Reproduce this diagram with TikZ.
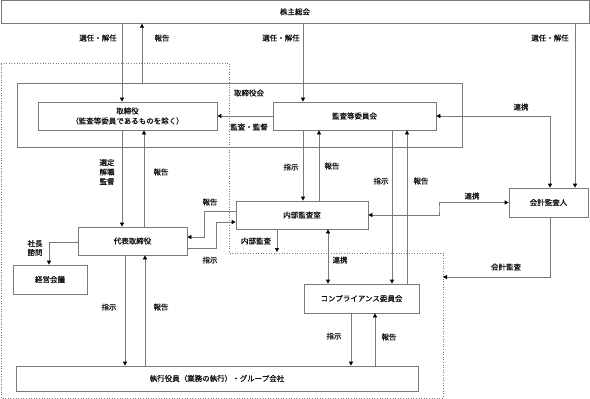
\documentclass[tikz,border=0pt]{standalone}
\usepackage{fontspec}
\newfontfamily\jp[FakeBold=0.6,BoldFont={Noto Sans CJK JP}]{Noto Sans CJK JP}
\usetikzlibrary{arrows.meta}
\definecolor{ln}{HTML}{7A7A7A}
\definecolor{tx}{HTML}{111111}
\tikzset{
  box/.style={draw=ln, line width=0.7pt, inner sep=0pt, align=center, text=tx, font=\jp\fontsize{7.5}{10}\selectfont},
  lbl/.style={inner sep=0pt, align=center, text=tx, font=\jp\fontsize{7.5}{10}\selectfont},
  con/.style={draw=ln, line width=0.7pt},
  arr/.style={con, -{Triangle[length=4pt,width=4pt,color=black]}},
  arrb/.style={con, {Triangle[length=4pt,width=4pt,color=black]}-{Triangle[length=4pt,width=4pt,color=black]}},
  bound/.style={draw=ln, line width=0.6pt, dotted}
}
\begin{document}
\begin{tikzpicture}[x=1pt,y=-1pt]
\useasboundingbox (0,0) rectangle (590,399);
% dotted boundary
\draw[bound] (1,63) -- (229,63) -- (229,253) -- (443,253) -- (443,398) -- (1,398) -- cycle;

% boxes
\node[box, minimum width=588, minimum height=23] (kab) at (295,11.8) {株主総会};
\node[box, minimum width=445, minimum height=64] (tkai) at (239.5,115) {};
\node[lbl] (tkailbl) at (249,93) {取締役会};
\node[box, minimum width=179, minimum height=28] (tori) at (127.5,116) {取締役\\（監査等委員であるものを除く）};
\node[box, minimum width=163, minimum height=28] (kansa) at (354.5,116) {監査等委員会};
\node[box, minimum width=79, minimum height=29] (kaikei) at (548.5,202.5) {会計監査人};
\node[box, minimum width=132, minimum height=28] (naibu) at (302,215) {内部監査室};
\node[box, minimum width=109, minimum height=28] (daihyo) at (132.5,241) {代表取締役};
\node[box, minimum width=74, minimum height=29] (keiei) at (50,279.5) {経営会議};
\node[box, minimum width=115, minimum height=29] (comp) at (361.5,298.5) {コンプライアンス委員会};
\node[box, minimum width=402, minimum height=25] (shikko) at (217,378.5) {執行役員（業務の執行）・グループ会社};

% connectors
\draw[arr] (kab.south -| 122,0) -- (tori.north -| 122,0);
\draw[arr] (tkai.north -| 142,0) -- (kab.south -| 142,0);
\draw[arr] (kab.south -| 303,0) -- (kansa.north -| 303,0);
\draw[arr] (kab.south -| 575,0) -- (kaikei.north -| 575,0);
\draw[arr] (kansa.west) -- (tori.east);
\draw[arrb] (kansa.east) -| (kaikei.north -| 550,0);
\draw[arr] (tori.south -| 122,0) -- (daihyo.north -| 122,0);
\draw[arr] (daihyo.north -| 144,0) -- (tori.south -| 144,0);
\draw[arr] (kansa.south -| 303,0) -- (naibu.north -| 303,0);
\draw[arr] (naibu.north -| 319,0) -- (kansa.south -| 319,0);
\draw[arr] (kansa.south -| 392,0) -- (comp.north -| 392,0);
\draw[arr] (comp.north -| 407,0) -- (kansa.south -| 407,0);
\draw[arrb] (kaikei.west) -| (439,209) |- (naibu.east);
\coordinate (kaend) at (443,277);
\draw[arr] (kaikei.south -| 550,0) |- (kaend);
\coordinate (naend) at (277,252);
\draw[arr] (naibu.south -| 277,0) -- (naend);
\draw[arrb] (naibu.south -| 328,0) -- (comp.north -| 328,0);
\draw[arr] (comp.south -| 351,0) -- (shikko.north -| 351,0);
\draw[arr] (shikko.north -| 375,0) -- (comp.south -| 375,0);
\draw[arr] (daihyo.south -| 125,0) -- (shikko.north -| 125,0);
\draw[arr] (shikko.north -| 145,0) -- (daihyo.south -| 145,0);
\draw[arr] (naibu.west |- 0,211) -- (204,211) -- (204,237) -- (daihyo.east |- 0,237);
\draw[arr] (daihyo.east |- 0,248) -- (216,248) -- (216,222) -- (naibu.west |- 0,222);
\draw[arr] (daihyo.west |- 0,242) -| (keiei.north -| 49,0);

% labels
\node[lbl] (l1) at (98,38) {選任・解任};
\node[lbl] (l2) at (162,38) {報告};
\node[lbl] (l3) at (281,38) {選任・解任};
\node[lbl] (l4) at (550,38) {選任・解任};
\node[lbl] (l5) at (249,127) {監査・監督};
\node[lbl] (l6) at (521,107) {連携};
\node[lbl, font=\jp\fontsize{7.5}{9.5}\selectfont] (l7) at (107,172) {選定\\解職\\監督};
\node[lbl] (l8) at (161,172) {報告};
\node[lbl] (l9) at (291,167) {指示};
\node[lbl] (l10) at (332,166) {報告};
\node[lbl] (l11) at (381,181) {指示};
\node[lbl] (l12) at (421,181) {報告};
\node[lbl] (l13) at (472,196) {連携};
\node[lbl] (l14) at (210,202) {報告};
\node[lbl] (l15) at (210,260) {指示};
\node[lbl] (l16) at (256,241) {内部監査};
\node[lbl, font=\jp\fontsize{7.5}{9}\selectfont] (l17) at (35,248) {社長\\諮問};
\node[lbl] (l18) at (340,260) {連携};
\node[lbl] (l19) at (506,267) {会計監査};
\node[lbl] (l20) at (109,307) {指示};
\node[lbl] (l21) at (161,307) {報告};
\node[lbl] (l22) at (334,336) {指示};
\node[lbl] (l23) at (389,337) {報告};
\end{tikzpicture}
\end{document}
